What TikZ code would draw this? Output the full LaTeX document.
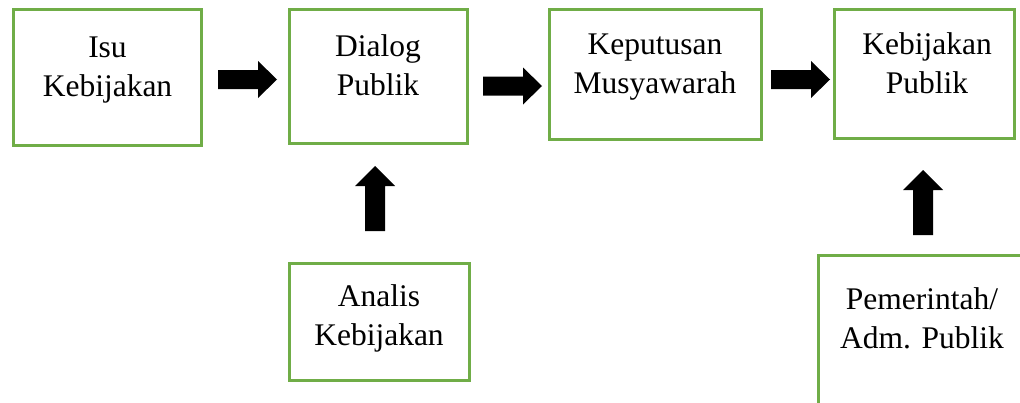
\documentclass[tikz,border=0pt]{standalone}
\usepackage{fontspec}
\setmainfont{Liberation Serif}
\definecolor{boxgreen}{RGB}{112,173,71}
\tikzset{
  box/.style={draw=boxgreen, line width=3pt, rectangle, inner sep=0pt},
  lbl/.style={font=\fontsize{31.5}{39}\selectfont, align=center, inner sep=0pt, anchor=base},
  rarrow/.pic={\fill[black] (-29.5,-9.5) -- (10.5,-9.5) -- (10.5,-18.5) -- (29.5,0) -- (10.5,18.5) -- (10.5,9.5) -- (-29.5,9.5) -- cycle;},
  uarrow/.pic={\fill[black] (-10,32.5) -- (-10,-12.5) -- (-20,-12.5) -- (0,-32.5) -- (20,-12.5) -- (10,-12.5) -- (10,32.5) -- cycle;}
}
\begin{document}
\begin{tikzpicture}[x=1pt,y=-1pt]
\useasboundingbox (0,0) rectangle (1020,402);
\clip (0,0) rectangle (1020,402);
% boxes
\node[box, minimum width=188pt, minimum height=135.5pt] (b1) at (107.5,77.25) {};
\node[box, minimum width=178pt, minimum height=134pt] (b2) at (378,76) {};
\node[box, minimum width=212pt, minimum height=130pt] (b3) at (655,74) {};
\node[box, minimum width=180pt, minimum height=129pt] (b4) at (924,73.5) {};
\node[box, minimum width=180pt, minimum height=117pt] (b5) at (379,321.5) {};
\node[box, minimum width=210pt, minimum height=170pt] (b6) at (923,340.5) {};
% labels (base = baseline of the last line)
\node[lbl] (t1) at (107.5,96.5) {Isu\\Kebijakan};
\node[lbl] (t2) at (378,95) {Dialog\\Publik};
\node[lbl] (t3) at (655,93.5) {Keputusan\\Musyawarah};
\node[lbl] (t4) at (927,93) {Kebijakan\\Publik};
\node[lbl] (t5) at (379,345.5) {Analis\\Kebijakan};
\node[lbl] (t6) at (922,348) {Pemerintah/\\Adm. Publik};
% block arrows
\pic at (247.5,79.5) {rarrow};
\pic at (512.5,86) {rarrow};
\pic at (800.5,79.5) {rarrow};
\pic at (375,198.5) {uarrow};
\pic at (923,202.5) {uarrow};
\end{tikzpicture}
\end{document}
